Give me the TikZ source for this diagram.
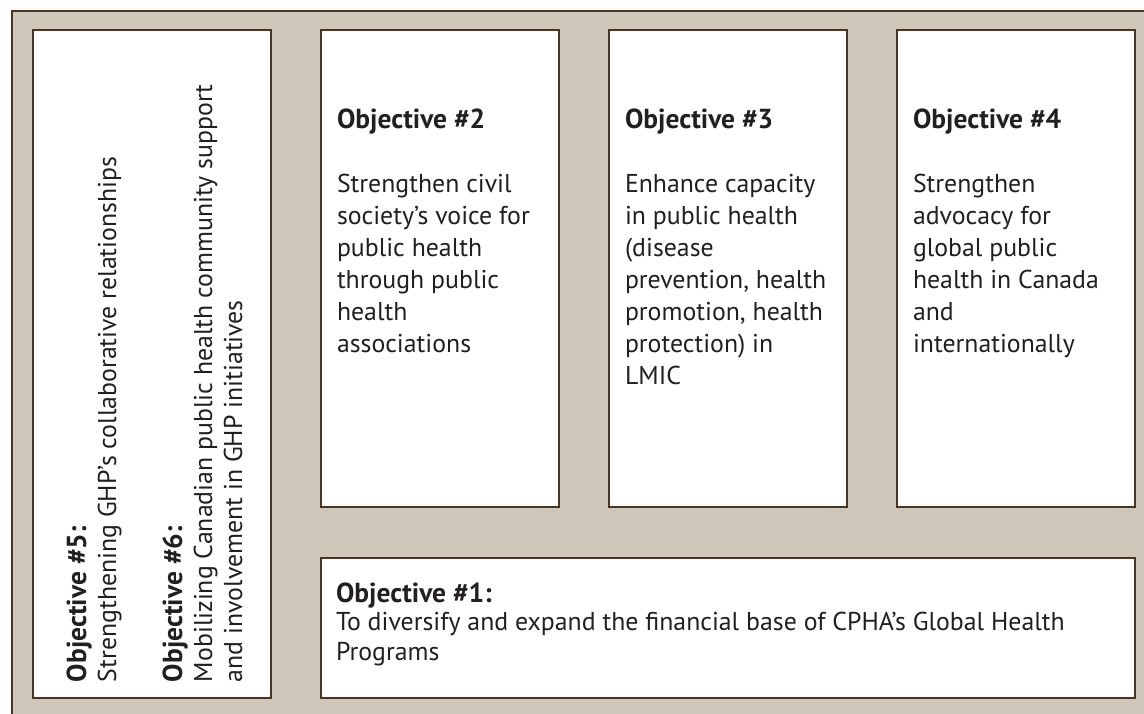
\documentclass[tikz,border=0pt]{standalone}
\usepackage{fontspec}
\setmainfont{PT Sans}
\definecolor{panelbg}{HTML}{D0C7BB}
\definecolor{rulebrown}{HTML}{4A3521}
\definecolor{ink}{HTML}{231F20}
% fixed-height strut: the first line's baseline sits 26pt below the node's top
\newcommand{\toprule}{\rule{0pt}{26pt}}
% bold heading of each objective
\newcommand{\objhead}[1]{{\fontsize{27.5}{30}\selectfont\bfseries #1}}
\begin{document}
\begin{tikzpicture}[x=1pt,y=-1pt,
  objbox/.style={draw=rulebrown, line width=1.8pt, fill=white, rectangle,
    inner sep=0pt, outer sep=0pt, anchor=north west},
  objtext/.style={text=ink, inner sep=0pt, outer sep=0pt, align=left,
    anchor=north west, font=\fontsize{25.8}{32}\selectfont}]
\useasboundingbox (0,0) rectangle (1144,713);
\clip (0,0) rectangle (1144,713);

% panel background, only its top and left edges fall inside the page
\fill[panelbg] (12,11) rectangle (1170,730);
\draw[rulebrown, line width=2.5pt] (12,730) -- (12,11) -- (1170,11);

% objective boxes
\node[objbox, minimum width=238pt, minimum height=668pt] (side) at (33,30) {};
\node[objbox, minimum width=238pt, minimum height=477pt] (box2) at (321,30) {};
\node[objbox, minimum width=238pt, minimum height=477pt] (box3) at (609,30) {};
\node[objbox, minimum width=238pt, minimum height=477pt] (box4) at (897,30) {};
\node[objbox, minimum width=814pt, minimum height=140pt] (box1) at (321,558) {};

% texts
\node[objtext] (t2) at (337,102) {\toprule\objhead{Objective \#2}\\[32pt]
  Strengthen civil\\ society’s voice for\\ public health\\ through public\\ health\\ associations};
\node[objtext] (t3) at (625,102) {\toprule\objhead{Objective \#3}\\[32pt]
  Enhance capacity\\ in public health\\ (disease\\ prevention, health\\ promotion, health\\ protection) in\\ LMIC};
\node[objtext] (t4) at (913,102) {\toprule\objhead{Objective \#4}\\[32pt]
  Strengthen\\ advocacy for\\ global public\\ health in Canada\\ and\\ internationally};
\node[objtext, font=\fontsize{25.8}{30}\selectfont] (t1) at (336,576) {\toprule\objhead{Objective \#1:}\\[-2pt]
  To diversify and expand the financial base of CPHA’s Global Health\\ Programs};
\node[objtext, rotate=90, font=\fontsize{25.8}{30}\selectfont] (t56) at (60,682) {\toprule\objhead{Objective \#5:}\\
  Strengthening GHP’s collaborative relationships\\[36pt]
  \objhead{Objective \#6:}\\
  Mobilizing Canadian public health community support\\
  and involvement in GHP initiatives};
\end{tikzpicture}
\end{document}
